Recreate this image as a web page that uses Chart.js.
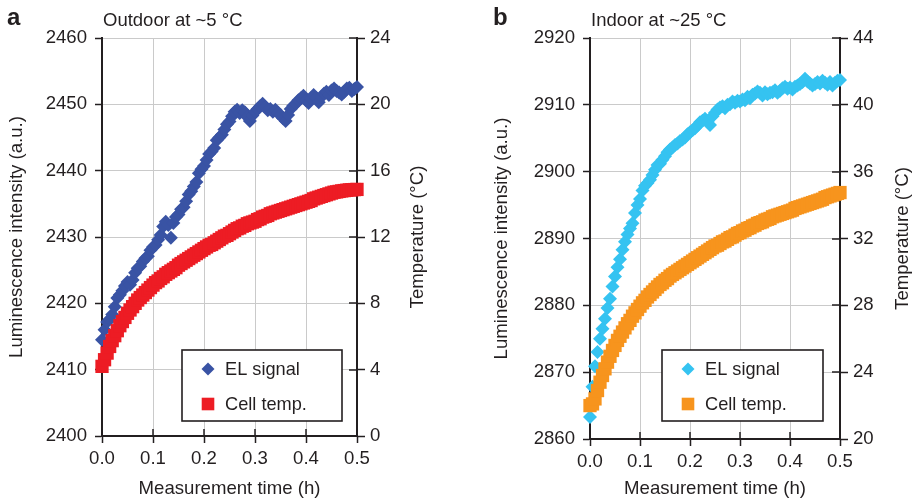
<!DOCTYPE html>
<html><head><meta charset="utf-8">
<script src="https://cdn.jsdelivr.net/npm/chart.js@4.4.0/dist/chart.umd.min.js"></script>
<style>
html,body{margin:0;padding:0;background:#fff;}
#wrap{position:relative;width:912px;height:500px;overflow:hidden;}
.c{position:absolute;top:0;width:456px;height:500px;}
</style></head><body>
<div id="wrap">
<div class="c" style="left:0"><canvas id="ca" width="456" height="500"></canvas></div>
<div class="c" style="left:456px"><canvas id="cb" width="456" height="500"></canvas></div>
</div>
<script>
// Measurement time (h)
const times = [
0, 0.005, 0.01, 0.015, 0.02, 0.025, 0.03, 0.035, 0.04, 0.045,
0.05, 0.055, 0.06, 0.065, 0.07, 0.075, 0.08, 0.085, 0.09, 0.095,
0.1, 0.105, 0.11, 0.115, 0.12, 0.125, 0.13, 0.135, 0.14, 0.145,
0.15, 0.155, 0.16, 0.165, 0.17, 0.175, 0.18, 0.185, 0.19, 0.195,
0.2, 0.205, 0.21, 0.215, 0.22, 0.225, 0.23, 0.235, 0.24, 0.245,
0.25, 0.255, 0.26, 0.265, 0.27, 0.275, 0.28, 0.285, 0.29, 0.295,
0.3, 0.305, 0.31, 0.315, 0.32, 0.325, 0.33, 0.335, 0.34, 0.345,
0.35, 0.355, 0.36, 0.365, 0.37, 0.375, 0.38, 0.385, 0.39, 0.395,
0.4, 0.405, 0.41, 0.415, 0.42, 0.425, 0.43, 0.435, 0.44, 0.445,
0.45, 0.455, 0.46, 0.465, 0.47, 0.475, 0.48, 0.485, 0.49, 0.495,
0.5];

// Panel a: Outdoor at ~5 °C
const elOutdoor = [
2414.5, 2416.0, 2417.2, 2417.6, 2418.3, 2419.5, 2420.8, 2421.3, 2421.9, 2422.6,
2423.2, 2422.8, 2423.5, 2424.6, 2425.3, 2425.6, 2426.3, 2426.8, 2427.1, 2428.0,
2428.5, 2428.8, 2429.6, 2430.3, 2431.6, 2432.3, 2431.8, 2429.9, 2432.1, 2433.0,
2433.4, 2434.2, 2434.5, 2435.4, 2436.4, 2436.9, 2437.6, 2438.3, 2439.6, 2440.2,
2440.7, 2441.6, 2442.5, 2442.9, 2443.4, 2444.6, 2445.0, 2445.4, 2446.2, 2447.0,
2447.4, 2448.2, 2448.9, 2449.2, 2448.7, 2449.1, 2448.8, 2448.1, 2447.5, 2448.3,
2448.9, 2449.3, 2449.7, 2450.1, 2449.6, 2449.1, 2449.3, 2448.9, 2449.2, 2448.7,
2448.4, 2447.9, 2447.5, 2448.4, 2449.3, 2449.8, 2450.1, 2450.6, 2450.9, 2451.3,
2450.6, 2450.2, 2450.9, 2451.4, 2451.0, 2450.3, 2451.1, 2451.6, 2451.9, 2451.4,
2452.1, 2452.4, 2452.0, 2451.8, 2451.5, 2451.9, 2452.4, 2452.5, 2452.0, 2452.3,
2452.6];
const tempOutdoor = [
4.2, 4.6, 5.0, 5.4, 5.75, 6.05, 6.35, 6.65, 6.9, 7.15,
7.4, 7.6, 7.8, 8.0, 8.2, 8.35, 8.5, 8.65, 8.8, 8.95,
9.1, 9.25, 9.35, 9.5, 9.6, 9.75, 9.85, 9.95, 10.05, 10.15,
10.3, 10.4, 10.5, 10.6, 10.7, 10.8, 10.9, 11.0, 11.1, 11.2,
11.3, 11.4, 11.5, 11.55, 11.65, 11.75, 11.85, 11.95, 12.05, 12.1,
12.2, 12.3, 12.4, 12.5, 12.55, 12.65, 12.7, 12.8, 12.85, 12.9,
12.95, 13.05, 13.1, 13.2, 13.25, 13.3, 13.4, 13.45, 13.5, 13.55,
13.6, 13.65, 13.7, 13.75, 13.8, 13.85, 13.9, 13.95, 14.0, 14.05,
14.1, 14.15, 14.2, 14.3, 14.35, 14.4, 14.45, 14.5, 14.55, 14.6,
14.65, 14.7, 14.72, 14.75, 14.78, 14.8, 14.82, 14.84, 14.85, 14.86,
14.87];

// Panel b: Indoor at ~25 °C
const elIndoor = [
2863.3, 2867.8, 2870.9, 2873.0, 2875.0, 2876.5, 2878.0, 2879.6, 2881.0, 2882.8,
2884.3, 2885.7, 2886.9, 2888.3, 2889.5, 2890.6, 2891.5, 2892.3, 2893.8, 2895.0,
2895.9, 2897.2, 2897.9, 2898.3, 2898.8, 2899.5, 2900.3, 2901.0, 2901.2, 2901.8,
2902.3, 2902.9, 2903.3, 2903.6, 2904.0, 2904.2, 2904.6, 2904.8, 2905.1, 2905.6,
2905.9, 2906.2, 2906.5, 2906.9, 2907.4, 2907.6, 2907.9, 2907.5, 2907.0, 2908.3,
2908.8, 2909.3, 2909.6, 2909.8, 2909.5, 2910.0, 2910.1, 2910.5, 2910.3, 2910.6,
2910.5, 2910.8, 2910.7, 2911.2, 2911.0, 2911.5, 2911.7, 2912.0, 2911.8, 2911.4,
2911.9, 2911.6, 2911.8, 2911.9, 2912.2, 2911.8, 2912.1, 2912.5, 2912.7, 2912.4,
2912.6, 2912.3, 2912.7, 2912.9, 2913.1, 2913.4, 2913.9, 2913.5, 2913.2, 2912.9,
2913.1, 2913.4, 2913.2, 2913.6, 2913.3, 2913.0, 2913.4, 2912.9, 2913.3, 2913.6,
2913.7];
const tempIndoor = [
22.0, 22.1, 22.4, 22.9, 23.4, 23.8, 24.2, 24.6, 24.95, 25.3,
25.6, 25.9, 26.15, 26.4, 26.65, 26.9, 27.1, 27.35, 27.55, 27.75,
27.95, 28.15, 28.3, 28.5, 28.65, 28.8, 28.95, 29.1, 29.25, 29.35,
29.5, 29.6, 29.75, 29.85, 29.95, 30.05, 30.15, 30.25, 30.35, 30.45,
30.55, 30.65, 30.75, 30.85, 30.95, 31.05, 31.15, 31.25, 31.35, 31.45,
31.55, 31.6, 31.7, 31.8, 31.85, 31.95, 32.05, 32.1, 32.2, 32.3,
32.35, 32.45, 32.5, 32.6, 32.65, 32.75, 32.8, 32.9, 32.95, 33.0,
33.1, 33.15, 33.2, 33.3, 33.35, 33.4, 33.45, 33.5, 33.55, 33.6,
33.65, 33.7, 33.8, 33.85, 33.9, 33.95, 34.0, 34.05, 34.1, 34.15,
34.2, 34.25, 34.3, 34.35, 34.45, 34.5, 34.55, 34.6, 34.65, 34.7,
34.75];

const seriesNames = ['EL signal', 'Cell temp.'];
const xTitle = 'Measurement time (h)';
const yLeftTitle = 'Luminescence intensity (a.u.)';
const yRightTitle = 'Temperature (\u00B0C)';

const FONT = '"Liberation Sans", Arial, Helvetica, sans-serif';
const FS = 18.6;
const TXT = '#231f20';
const GRID = '#cacaca';
Chart.defaults.font.family = FONT;
Chart.defaults.color = TXT;

const decor = {
  id: 'decor',
  afterDraw(chart, args, o) {
    const ctx = chart.ctx;
    const ca = chart.chartArea;
    const xs = chart.scales.x, yr = chart.scales.y1;
    ctx.save();
    // inner tick marks on x axis and right axis
    ctx.strokeStyle = TXT; ctx.lineWidth = 1.5;
    ctx.beginPath();
    xs.ticks.forEach(t => { const p = Math.round(xs.getPixelForValue(t.value)); ctx.moveTo(p, ca.bottom); ctx.lineTo(p, ca.bottom - 7); });
    yr.ticks.forEach(t => { const p = Math.round(yr.getPixelForValue(t.value)); ctx.moveTo(ca.right, p); ctx.lineTo(ca.right - 8, p); });
    ctx.stroke();
    // right axis title (reads bottom to top)
    ctx.fillStyle = TXT;
    ctx.font = FS + 'px ' + FONT;
    ctx.textAlign = 'center'; ctx.textBaseline = 'middle';
    ctx.save();
    ctx.translate(ca.right + o.rtOff, (ca.top + ca.bottom) / 2);
    ctx.rotate(-Math.PI / 2);
    ctx.fillText(yRightTitle, 0, 0);
    ctx.restore();
    // panel letter and title
    ctx.textAlign = 'left'; ctx.textBaseline = 'alphabetic';
    ctx.font = 'bold 24px ' + FONT;
    ctx.fillText(o.letter, o.letterX, 25);
    ctx.font = '18.5px ' + FONT;
    ctx.fillText(o.title, ca.left + 1, 26);
    // legend box
    const L = o.legend;
    ctx.fillStyle = '#fff';
    ctx.fillRect(L.x, L.y, L.w, L.h);
    ctx.strokeStyle = TXT; ctx.lineWidth = 1.6;
    ctx.strokeRect(L.x, L.y, L.w, L.h);
    const ds = chart.data.datasets;
    const mx = L.x + 26;
    const rows = [L.y + 19, L.y + 54];
    ctx.font = '18.2px ' + FONT;
    ds.forEach((d, i) => {
      const y = rows[i];
      ctx.fillStyle = d.backgroundColor;
      ctx.beginPath();
      if (d.pointStyle === 'rectRot') {
        const r = 6.5;
        ctx.moveTo(mx, y - r); ctx.lineTo(mx + r, y); ctx.lineTo(mx, y + r); ctx.lineTo(mx - r, y); ctx.closePath();
      } else {
        const s = 6.3;
        ctx.rect(mx - s, y - s, 2 * s, 2 * s);
      }
      ctx.fill();
      ctx.fillStyle = TXT;
      ctx.textBaseline = 'middle';
      ctx.fillText(d.label, L.x + 43, y + 1);
    });
    ctx.restore();
  }
};

function makeChart(id, p) {
  const font = {family: FONT, size: FS};
  const plain = v => String(v);
  return new Chart(document.getElementById(id), {
    type: 'scatter',
    data: {
      datasets: [
        {label: seriesNames[0], data: p.el.map((v, i) => ({x: times[i], y: v})), yAxisID: 'y',
         pointStyle: 'rectRot', pointRadius: 7, pointHoverRadius: 7, pointBorderWidth: 0,
         backgroundColor: p.elColor, borderColor: p.elColor, showLine: false, clip: false, order: 2},
        {label: seriesNames[1], data: p.temp.map((v, i) => ({x: times[i], y: v})), yAxisID: 'y1',
         pointStyle: 'rect', pointRadius: 9.4, pointHoverRadius: 9.4, pointBorderWidth: 0,
         backgroundColor: p.tColor, borderColor: p.tColor, showLine: false, clip: false, order: 1}
      ]
    },
    options: {
      responsive: false, animation: false, devicePixelRatio: 1,
      layout: {padding: {top: 38, left: 0, right: 0, bottom: 0}},
      plugins: {legend: {display: false}, tooltip: {enabled: false}, decor: p.decor},
      scales: {
        x: {type: 'linear', position: 'bottom', min: 0, max: 0.5,
            ticks: {stepSize: 0.1, callback: v => v.toFixed(1), font, color: TXT, padding: 5, maxRotation: 0, autoSkip: false},
            grid: {color: GRID, lineWidth: 1, tickColor: TXT, tickLength: 7, tickWidth: 1.5},
            border: {color: TXT, width: 2},
            title: {display: true, text: xTitle, font, color: TXT, padding: {top: 0, bottom: 0}},
            afterFit(s) { s.height = p.xH; }},
        y: {position: 'left', min: p.yL[0], max: p.yL[1],
            ticks: {stepSize: p.yL[2], font, color: TXT, padding: 8, callback: plain},
            grid: {color: GRID, lineWidth: 1, tickColor: TXT, tickLength: 7, tickWidth: 1.5},
            border: {color: TXT, width: 2},
            title: {display: true, text: yLeftTitle, font, color: TXT, padding: {top: p.ltPad, bottom: 0}},
            afterFit(s) { s.width = p.leftW; }},
        y1: {position: 'right', min: p.yR[0], max: p.yR[1],
            ticks: {stepSize: p.yR[2], font, color: TXT, padding: 5, callback: plain},
            grid: {drawOnChartArea: false, tickColor: TXT, tickLength: 8, tickWidth: 1.5},
            border: {color: TXT, width: 2},
            afterFit(s) { s.width = p.rightW; }}
      }
    },
    plugins: [decor]
  });
}

makeChart('ca', {
  el: elOutdoor, temp: tempOutdoor, elColor: '#3953a4', tColor: '#ed1c24',
  yL: [2400, 2460, 10], yR: [0, 24, 4], leftW: 102, rightW: 99, xH: 64, ltPad: 5.5,
  decor: {letter: 'a', letterX: 7, title: 'Outdoor at ~5 \u00B0C', rtOff: 61, legend: {x: 182, y: 350, w: 160, h: 71}}
});
makeChart('cb', {
  el: elIndoor, temp: tempIndoor, elColor: '#35c3f1', tColor: '#f7941d',
  yL: [2860, 2920, 10], yR: [20, 44, 4], leftW: 134, rightW: 72, xH: 61, ltPad: 34.5,
  decor: {letter: 'b', letterX: 37, title: 'Indoor at ~25 \u00B0C', rtOff: 63, legend: {x: 206, y: 350, w: 161, h: 71}}
});
</script>
</body></html>
